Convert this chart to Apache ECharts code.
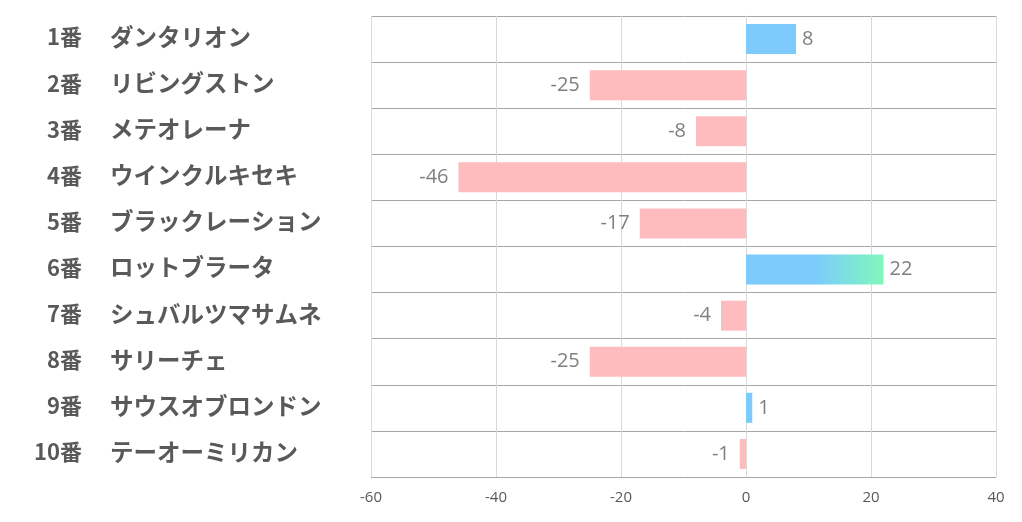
<!DOCTYPE html>
<html><head><meta charset="utf-8">
<script src="https://cdn.jsdelivr.net/npm/echarts@6/dist/echarts.min.js"></script>
<style>html,body{margin:0;padding:0;background:#fff}#c{width:1022px;height:522px}</style>
</head><body><div id="c"></div>
<script>
const numbers = ['1番','2番','3番','4番','5番','6番','7番','8番','9番','10番'];
const names = ['ダンタリオン','リビングストン','メテオレーナ','ウインクルキセキ','ブラックレーション','ロットブラータ','シュバルツマサムネ','サリーチェ','サウスオブロンドン','テーオーミリカン'];
const values = [8, -25, -8, -46, -17, 22, -4, -25, 1, -1];
const xTicks = [-60, -40, -20, 0, 20, 40];

const cv = document.createElement('canvas').getContext('2d');
cv.font = 'bold 22px "Noto Sans CJK JP"';
const numBox = 48;

const categories = numbers.map((n, i) => n + '|' + names[i]);
const maxVal = Math.max.apply(null, values);
const data = values.map(v => {
  let color;
  if (v < 0) color = '#ffbcbe';
  else if (v === maxVal) color = new echarts.graphic.LinearGradient(0, 0, 1, 0, [
    {offset: 0, color: '#7ccbfc'}, {offset: 0.5, color: '#7ccbfc'}, {offset: 1, color: '#80f8bc'}]);
  else color = '#7ccbfc';
  return {value: v, itemStyle: {color: color},
    label: {position: v < 0 ? 'left' : 'right', distance: v < 0 ? 10 : 6}};
});

const rich = {s: {fontSize: 23.5, fontWeight: 'bold', color: '#595959', fontFamily: 'Noto Sans CJK JP', padding: [0, 0, 4, 28]}};
numbers.forEach((n, i) => {
  const w = cv.measureText(n).width;
  rich['n' + i] = {fontSize: 22, fontWeight: 'bold', color: '#595959', fontFamily: 'Noto Sans CJK JP',
    padding: [0, 0, 4, Math.max(0, numBox - w)]};
});

const chart = echarts.init(document.getElementById('c'));
chart.setOption({
  animation: false,
  grid: {left: 371, right: 26, top: 16, bottom: 45},
  xAxis: {
    type: 'value', min: xTicks[0], max: xTicks[xTicks.length - 1], interval: 20,
    axisLine: {show: false}, axisTick: {show: false},
    splitLine: {show: true, lineStyle: {color: '#d9d9d9', width: 1}},
    axisLabel: {color: '#595959', fontSize: 15, margin: 13, fontFamily: 'Open Sans, Noto Sans, sans-serif'}
  },
  yAxis: {
    type: 'category', data: categories, inverse: true,
    axisLine: {show: true, lineStyle: {color: '#d9d9d9'}},
    axisTick: {show: false},
    splitLine: {show: true, lineStyle: {color: '#a6a6a6', width: 1}},
    axisLabel: {
      align: 'left', margin: 337,
      formatter: function (v, idx) {
        const p = v.split('|');
        return '{n' + idx + '|' + p[0] + '}{s|' + p[1] + '}';
      },
      rich: rich
    }
  },
  series: [{
    type: 'bar', data: data, barWidth: 30,
    label: {show: true, color: '#7f7f7f', fontSize: 20, fontFamily: 'Open Sans, Noto Sans, sans-serif'}
  }]
});
</script></body></html>
